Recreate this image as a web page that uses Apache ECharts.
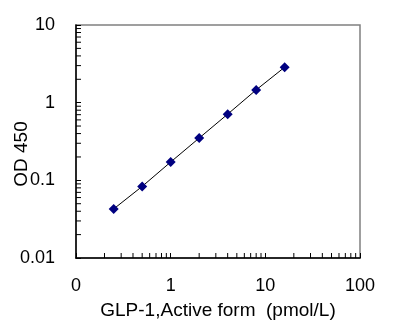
<!DOCTYPE html>
<html>
<head>
<meta charset="utf-8">
<script src="https://cdn.jsdelivr.net/npm/echarts@6/dist/echarts.min.js"></script>
<style>
  html, body { margin: 0; padding: 0; background: #fff; }
  #chart { width: 398px; height: 329px; }
</style>
</head>
<body>
<div id="chart"></div>
<script>
// Standard curve: concentration (pmol/L) vs OD 450
const concentration = [0.25, 0.5, 1, 2, 4, 8, 16];
const od450 = [0.0428, 0.0835, 0.172, 0.350, 0.711, 1.46, 2.86];

const xTickValues = [0.1, 1, 10, 100];
const xTickLabels = ['0', '1', '10', '100'];
const yTickValues = [0.01, 0.1, 1, 10];
const yTickLabels = ['0.01', '0.1', '1', '10'];

// minor tick positions (2..9 within each decade)
const xMinorTicks = [];
for (const d of [0.1, 1, 10]) for (let k = 2; k <= 9; k++) xMinorTicks.push(+(d * k).toPrecision(6));
const yMinorTicks = [];
for (const d of [0.01, 0.1, 1]) for (let k = 2; k <= 9; k++) yMinorTicks.push(+(d * k).toPrecision(6));

const X_MIN = 0.1, X_MAX = 100, Y_MIN = 0.01, Y_MAX = 10;
const FONT = 'Liberation Sans, Arial, sans-serif';

function labelFor(values, labels) {
  return function (v) {
    for (let i = 0; i < values.length; i++) {
      if (Math.abs(Math.log10(v) - Math.log10(values[i])) < 1e-6) return labels[i];
    }
    return '';
  };
}

const chart = echarts.init(document.getElementById('chart'));
chart.setOption({
  animation: false,
  backgroundColor: '#fff',
  grid: {
    left: 76, right: 38, top: 25, bottom: 71,
    show: true, borderColor: '#808080', borderWidth: 1.5,
    outerBoundsMode: 'none'
  },
  graphic: [{
    type: 'text',
    x: 22, y: 154,
    rotation: Math.PI / 2,
    style: {
      text: 'OD 450', fontFamily: FONT, fontSize: 19, fill: '#000',
      align: 'center', verticalAlign: 'middle'
    }
  }],
  xAxis: {
    type: 'log', logBase: 10, min: X_MIN, max: X_MAX,
    name: 'GLP-1,Active form  (pmol/L)',
    nameLocation: 'middle', nameGap: 43,
    nameTextStyle: { fontFamily: FONT, fontSize: 19, color: '#000' },
    axisLine: { onZero: false, lineStyle: { color: '#000', width: 1.5 } },
    axisTick: { inside: true, length: 5, lineStyle: { color: '#000' } },
    axisLabel: { fontFamily: FONT, fontSize: 18, color: '#000', margin: 19, formatter: labelFor(xTickValues, xTickLabels) },
    splitLine: { show: false }
  },
  yAxis: {
    type: 'log', logBase: 10, min: Y_MIN, max: Y_MAX,
    axisLine: { onZero: false, lineStyle: { color: '#000', width: 1.5 } },
    axisTick: { inside: true, length: 5, lineStyle: { color: '#000' } },
    axisLabel: { fontFamily: FONT, fontSize: 18, color: '#000', margin: 21, formatter: labelFor(yTickValues, yTickLabels) },
    splitLine: { show: false }
  },
  series: [
    {
      type: 'custom', silent: true, z: 3,
      data: xMinorTicks.map(v => [v, Y_MIN]),
      renderItem: function (params, api) {
        const p = api.coord([api.value(0), api.value(1)]);
        return { type: 'line', shape: { x1: p[0], y1: p[1], x2: p[0], y2: p[1] - 5 }, style: { stroke: '#000', lineWidth: 1 } };
      }
    },
    {
      type: 'custom', silent: true, z: 3,
      data: yMinorTicks.map(v => [X_MIN, v]),
      renderItem: function (params, api) {
        const p = api.coord([api.value(0), api.value(1)]);
        return { type: 'line', shape: { x1: p[0], y1: p[1], x2: p[0] + 5, y2: p[1] }, style: { stroke: '#000', lineWidth: 1 } };
      }
    },
    {
      type: 'line',
      data: concentration.map((c, i) => [c, od450[i]]),
      symbol: 'diamond', symbolSize: 10,
      itemStyle: { color: '#000080' },
      lineStyle: { color: '#000', width: 1 },
      z: 4
    }
  ]
});
</script>
</body>
</html>
